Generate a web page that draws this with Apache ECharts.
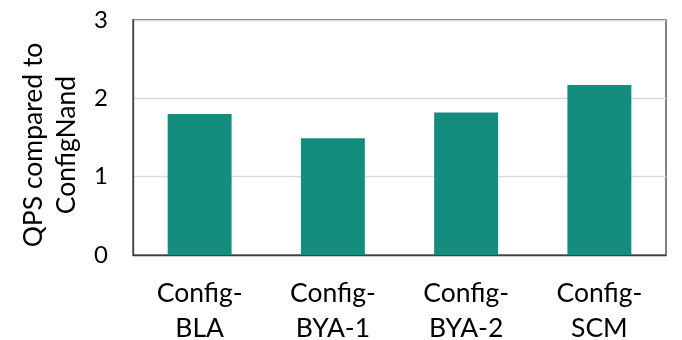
<!DOCTYPE html>
<html><head><meta charset="utf-8">
<script src="https://cdn.jsdelivr.net/npm/echarts@6/dist/echarts.min.js"></script>
<style>html,body{margin:0;padding:0;background:#fff}#c{width:682px;height:340px}</style>
</head><body><div id="c"></div>
<script>
var categories = ["Config-\nBLA", "Config-\nBYA-1", "Config-\nBYA-2", "Config-\nSCM"];
var qpsValues = [1.80, 1.49, 1.82, 2.17];
var yAxisName = "QPS compared to\nConfigNand";
var FONT = "Lato";
var chart = echarts.init(document.getElementById('c'), null, {renderer: 'canvas'});
chart.setOption({
  animation: false,
  grid: {left: 133, right: 16, top: 20, bottom: 85, containLabel: false, outerBoundsMode: 'none', show: true, borderColor: '#404040', borderWidth: 1.3, backgroundColor: 'transparent'},
  xAxis: {
    type: 'category', data: categories,
    axisLine: {show: true, lineStyle: {color: '#404040', width: 1.3}},
    axisTick: {show: false},
    axisLabel: {fontFamily: FONT, fontSize: 26.5, color: '#000', lineHeight: 35, margin: 21, interval: 0}
  },
  yAxis: {
    type: 'value', min: 0, max: 3, interval: 1,
    name: yAxisName, nameLocation: 'middle', nameGap: 48, nameRotate: 90,
    nameTextStyle: {fontFamily: FONT, fontSize: 26.5, color: '#000', lineHeight: 33, padding: [0, 15, 0, 0]},
    axisLine: {show: true, lineStyle: {color: '#404040', width: 1.3}},
    axisTick: {show: false},
    axisLabel: {fontFamily: FONT, fontSize: 24, color: '#000', margin: 25},
    splitLine: {show: true, lineStyle: {color: '#d9d9d9', width: 1.3}}
  },
  series: [{
    type: 'bar', data: qpsValues, barWidth: '48%',
    itemStyle: {color: '#148C7E'}
  }]
});
</script></body></html>
